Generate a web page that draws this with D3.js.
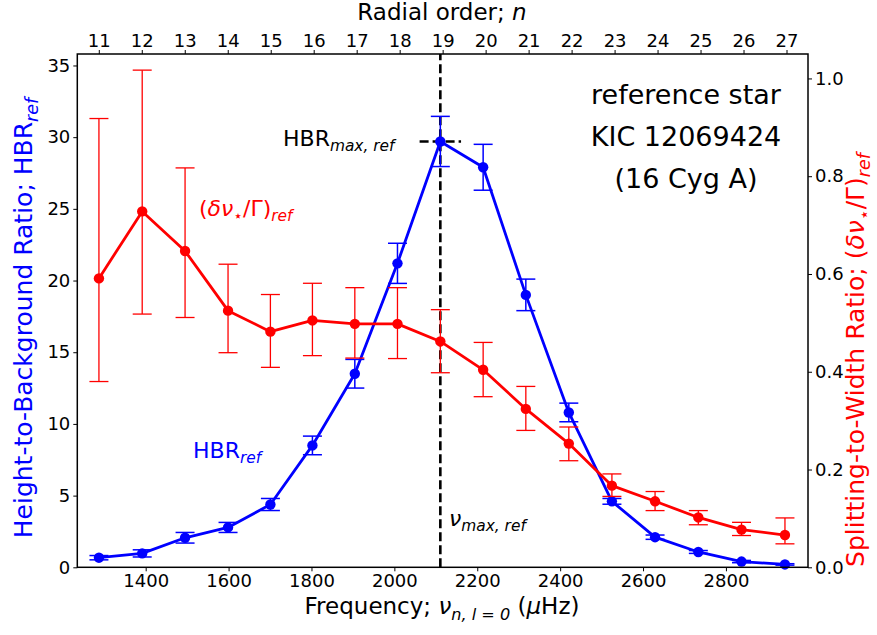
<!DOCTYPE html>
<html>
<head>
<meta charset="utf-8">
<script src="https://cdn.jsdelivr.net/npm/d3@7"></script>
<style>
body { margin: 0; background: #fff; }
svg text { font-family: "DejaVu Sans", sans-serif; }
</style>
</head>
<body>
<svg id="chart" width="877" height="635"></svg>
<script>
// radial orders and l=0 mode frequencies (muHz)
var orders = [11, 12, 13, 14, 15, 16, 17, 18, 19, 20, 21, 22, 23, 24, 25, 26, 27];
var freqs = [1287.2, 1391.6, 1495.0, 1598.7, 1700.9, 1802.3, 1904.6, 2007.5, 2110.9,
             2214.2, 2317.2, 2420.9, 2524.9, 2629.0, 2733.4, 2837.6, 2942.4];

// height-to-background ratio (left axis)
var hbr = [0.67, 0.97, 2.06, 2.78, 4.38, 8.5, 13.5, 21.2, 29.7, 27.9, 19.0, 10.8, 4.6, 2.1, 1.07, 0.4, 0.2];
var hbrErr = [0.15, 0.25, 0.37, 0.35, 0.42, 0.65, 1.0, 1.4, 1.75, 1.6, 1.1, 0.65, 0.2, 0.15, 0.1, 0.08, 0.05];

// splitting-to-width ratio (right axis), asymmetric errors
var swr = [0.591, 0.728, 0.647, 0.525, 0.482, 0.505, 0.498, 0.498, 0.462, 0.404, 0.324, 0.253, 0.167, 0.135, 0.102, 0.077, 0.066];
var swrErrUp = [0.327, 0.289, 0.170, 0.095, 0.076, 0.076, 0.074, 0.074, 0.065, 0.056, 0.046, 0.034, 0.024, 0.020, 0.014, 0.015, 0.035];
var swrErrDown = [0.211, 0.210, 0.136, 0.086, 0.073, 0.072, 0.070, 0.071, 0.064, 0.055, 0.044, 0.035, 0.022, 0.019, 0.015, 0.012, 0.018];

var freqTicks = [1400, 1600, 1800, 2000, 2200, 2400, 2600, 2800];
var hbrTicks = [0, 5, 10, 15, 20, 25, 30, 35];
var swrTicks = [0, 0.2, 0.4, 0.6, 0.8, 1.0];

var svg = d3.select('#chart');
var box = {left: 77.3, right: 808, top: 54, bottom: 567.3};

var x = d3.scaleLinear().domain([1235, 2998]).range([box.left, box.right]);
var xTop = d3.scaleLinear().domain([10.5, 27.5]).range([box.left, box.right]);
var yL = d3.scaleLinear().domain([0, 35.8]).range([box.bottom, box.top]);
var yR = d3.scaleLinear().domain([0, 1.05]).range([box.bottom, box.top]);

svg.append('rect').attr('width', 877).attr('height', 635).attr('fill', '#fff');

// text with sub/italic parts, mathtext-like
function richText(sel, parts, size) {
    var shift = 0;
    parts.forEach(function (p) {
        var target = p.sub ? size * 0.24 : 0;
        sel.append('tspan')
            .attr('dy', target - shift)
            .style('font-size', (p.sub ? size * 0.7 : size) + 'px')
            .style('font-style', p.it ? 'italic' : 'normal')
            .text(p.t);
        shift = target;
    });
    return sel;
}

function styleAxis(g) {
    g.select('.domain').remove();
    g.selectAll('.tick line').attr('stroke', '#000').attr('stroke-width', 1);
    g.selectAll('.tick text').attr('fill', '#000').style('font-size', '18px');
}

svg.append('g').attr('transform', 'translate(0,' + box.bottom + ')')
    .call(d3.axisBottom(x).tickValues(freqTicks).tickSize(4).tickPadding(3)
        .tickFormat(d3.format('d')))
    .call(styleAxis);
svg.append('g').attr('transform', 'translate(0,' + box.top + ')')
    .call(d3.axisTop(xTop).tickValues(orders).tickSize(4).tickPadding(3))
    .call(styleAxis);
svg.append('g').attr('transform', 'translate(' + box.left + ',0)')
    .call(d3.axisLeft(yL).tickValues(hbrTicks).tickSize(4).tickPadding(3))
    .call(styleAxis);
svg.append('g').attr('transform', 'translate(' + box.right + ',0)')
    .call(d3.axisRight(yR).tickValues(swrTicks).tickSize(4).tickPadding(3)
        .tickFormat(d3.format('.1f')))
    .call(styleAxis);

// nu_max reference lines
var iMax = d3.maxIndex(hbr);
var numax = freqs[iMax];
svg.append('line')
    .attr('x1', x(numax)).attr('x2', x(numax))
    .attr('y1', box.bottom).attr('y2', box.top)
    .attr('stroke', '#000').attr('stroke-width', 2.6).attr('stroke-dasharray', '9,4');
svg.append('line')
    .attr('x1', x(numax - 50)).attr('x2', x(numax + 50))
    .attr('y1', yL(hbr[iMax])).attr('y2', yL(hbr[iMax]))
    .attr('stroke', '#000').attr('stroke-width', 2.6).attr('stroke-dasharray', '9,4');

function drawSeries(vals, lo, hi, y, color, elw) {
    var g = svg.append('g');
    var idx = d3.range(vals.length);
    g.selectAll('.ebar').data(idx).enter().append('line')
        .attr('x1', function (i) { return x(freqs[i]); })
        .attr('x2', function (i) { return x(freqs[i]); })
        .attr('y1', function (i) { return y(vals[i] - lo[i]); })
        .attr('y2', function (i) { return y(vals[i] + hi[i]); })
        .attr('stroke', color).attr('stroke-width', elw);
    [function (i) { return vals[i] - lo[i]; }, function (i) { return vals[i] + hi[i]; }].forEach(function (f) {
        g.selectAll(null).data(idx).enter().append('line')
            .attr('x1', function (i) { return x(freqs[i]) - 9.5; })
            .attr('x2', function (i) { return x(freqs[i]) + 9.5; })
            .attr('y1', function (i) { return y(f(i)); })
            .attr('y2', function (i) { return y(f(i)); })
            .attr('stroke', color).attr('stroke-width', elw);
    });
    var line = d3.line()
        .x(function (i) { return x(freqs[i]); })
        .y(function (i) { return y(vals[i]); });
    g.append('path').datum(idx)
        .attr('d', line).attr('fill', 'none')
        .attr('stroke', color).attr('stroke-width', 2.8).attr('stroke-linejoin', 'round');
    g.selectAll('circle').data(idx).enter().append('circle')
        .attr('cx', function (i) { return x(freqs[i]); })
        .attr('cy', function (i) { return y(vals[i]); })
        .attr('r', 5.2).attr('fill', color);
}

drawSeries(hbr, hbrErr, hbrErr, yL, '#0000ff', 1.5);
drawSeries(swr, swrErrDown, swrErrUp, yR, '#ff0000', 1.3);

// frame
svg.append('rect')
    .attr('x', box.left).attr('y', box.top)
    .attr('width', box.right - box.left).attr('height', box.bottom - box.top)
    .attr('fill', 'none').attr('stroke', '#000').attr('stroke-width', 1.5);

// axis titles
richText(svg.append('text').attr('x', 442).attr('y', 20).attr('text-anchor', 'middle'),
    [{t: 'Radial order; '}, {t: 'n', it: true}], 23);
richText(svg.append('text').attr('x', 442).attr('y', 614).attr('text-anchor', 'middle'),
    [{t: 'Frequency; '}, {t: 'ν', it: true}, {t: 'n, l = 0', it: true, sub: true}, {t: ' ('}, {t: 'μ', it: true}, {t: 'Hz)'}], 23);
richText(svg.append('text').attr('fill', '#0000ff').attr('text-anchor', 'middle')
        .attr('transform', 'translate(32,318) rotate(-90)'),
    [{t: 'Height-to-Background Ratio; HBR'}, {t: 'ref', it: true, sub: true}], 25);
richText(svg.append('text').attr('fill', '#ff0000').attr('text-anchor', 'middle')
        .attr('transform', 'translate(864,360) rotate(-90)'),
    [{t: 'Splitting-to-Width Ratio; ('}, {t: 'δν', it: true}, {t: '⋆', sub: true}, {t: '/Γ)'}, {t: 'ref', it: true, sub: true}], 25);

// annotations
richText(svg.append('text').attr('x', 283).attr('y', 146),
    [{t: 'HBR'}, {t: 'max, ref', it: true, sub: true}], 22);
richText(svg.append('text').attr('x', 199).attr('y', 216).attr('fill', '#ff0000'),
    [{t: '('}, {t: 'δν', it: true}, {t: '⋆', sub: true}, {t: '/Γ)'}, {t: 'ref', it: true, sub: true}], 22);
richText(svg.append('text').attr('x', 193).attr('y', 458).attr('fill', '#0000ff'),
    [{t: 'HBR'}, {t: 'ref', it: true, sub: true}], 22);
richText(svg.append('text').attr('x', 449).attr('y', 526),
    [{t: 'ν', it: true}, {t: 'max, ref', it: true, sub: true}], 22);

var starLines = ['reference star', 'KIC 12069424', '(16 Cyg A)'];
svg.selectAll('.star').data(starLines).enter().append('text')
    .attr('class', 'star')
    .attr('x', 686)
    .attr('y', function (d, i) { return 104 + i * 42; })
    .attr('text-anchor', 'middle')
    .style('font-size', '27px')
    .text(function (d) { return d; });
</script>
</body>
</html>
